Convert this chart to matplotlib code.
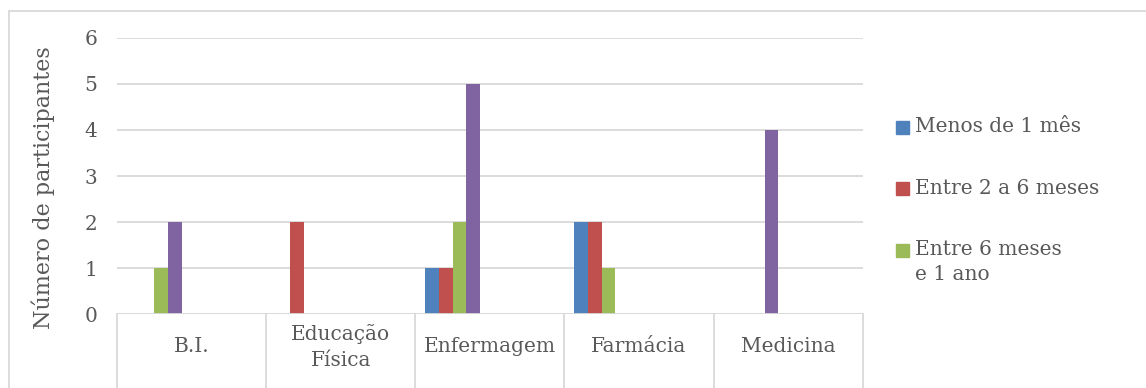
import numpy as np
import matplotlib
matplotlib.use("Agg")
import matplotlib.pyplot as plt
from matplotlib.patches import Rectangle
from matplotlib.lines import Line2D

categories = ["B.I.", "Educação\nFísica", "Enfermagem", "Farmácia", "Medicina"]
series_names = ["Menos de 1 mês", "Entre 2 a 6 meses", "Entre 6 meses\ne 1 ano", "Mais de 1 ano"]
menos_1_mes = [0, 0, 1, 2, 0]
entre_2_6 = [0, 2, 1, 2, 0]
entre_6_12 = [1, 0, 2, 1, 0]
mais_1_ano = [2, 0, 5, 0, 4]
series = [menos_1_mes, entre_2_6, entre_6_12, mais_1_ano]
colors = ["#4f81bd", "#c0504d", "#9bbb59", "#8064a2"]
yticks = [0, 1, 2, 3, 4, 5, 6]

txt = "#595959"
grid = "#d9d9d9"
plt.rcParams['font.family'] = ['DejaVu Serif']

W, H = 1146, 388
fig = plt.figure(figsize=(W / 100, H / 100), dpi=100)

# plot area in pixels
x0, x1 = 117, 862.7
ytop, ybot = 37.7, 314.3
ax = fig.add_axes([x0 / W, 1 - ybot / H, (x1 - x0) / W, (ybot - ytop) / H])

# outer chart border (only top and left edges are visible)
bx, by = 9 / W, 1 - 10.7 / H
fig.add_artist(Line2D([bx, 1.0], [by, by], transform=fig.transFigure, color=grid, linewidth=1.3))
fig.add_artist(Line2D([bx, bx], [0, by], transform=fig.transFigure, color=grid, linewidth=1.3))

n = len(categories)
bw = 0.0918
start = -0.433
for j, vals in enumerate(series):
    xs = np.arange(n) + start + j * bw
    ax.bar(xs, vals, width=bw, align='edge', color=colors[j], zorder=3)

ax.set_xlim(-0.5, n - 0.5)
ax.set_ylim(0, 6)
ax.set_yticks(yticks)
ax.set_yticklabels([str(v) for v in yticks], fontsize=14.5, color=txt)
ax.tick_params(axis='y', length=0, pad=14)
ax.set_xticks([])
ax.grid(axis='y', color=grid, linewidth=1.3, zorder=0)
for s in ax.spines.values():
    s.set_visible(False)
ax.axhline(0, color=grid, linewidth=1.3, zorder=4)

# category box lines below the axis
drop = (H - ybot + 5) / (ybot - ytop)
for b in np.arange(n + 1) - 0.5:
    ax.plot([b, b], [0, -drop], transform=ax.get_xaxis_transform(), color=grid,
            linewidth=1.3, clip_on=False)
for i, c in enumerate(categories):
    ax.text(i, -(347 - ybot) / (ybot - ytop), c, transform=ax.get_xaxis_transform(),
            ha='center', va='center', fontsize=14.5, color=txt, linespacing=1.4)

ax.set_ylabel("Número de participantes", fontsize=16, color=txt)
ax.yaxis.set_label_coords((43 - x0) / (x1 - x0), (ybot - 188) / (ybot - ytop))
ax.yaxis.label.set_va('center')

# legend (only the visible entries)
leg_y = [127, 188, 250]
for j in range(3):
    fig.patches.append(Rectangle((896 / W, 1 - (leg_y[j] + 6.5) / H), 13 / W, 13 / H,
                                 transform=fig.transFigure, color=colors[j]))
    multi = '\n' in series_names[j]
    fig.text(915 / W, 1 - (leg_y[j] - 10 if multi else leg_y[j]) / H, series_names[j],
             fontsize=14.5, color=txt, ha='left', va='top' if multi else 'center',
             linespacing=1.4)

fig.savefig("out.png", dpi=100)
